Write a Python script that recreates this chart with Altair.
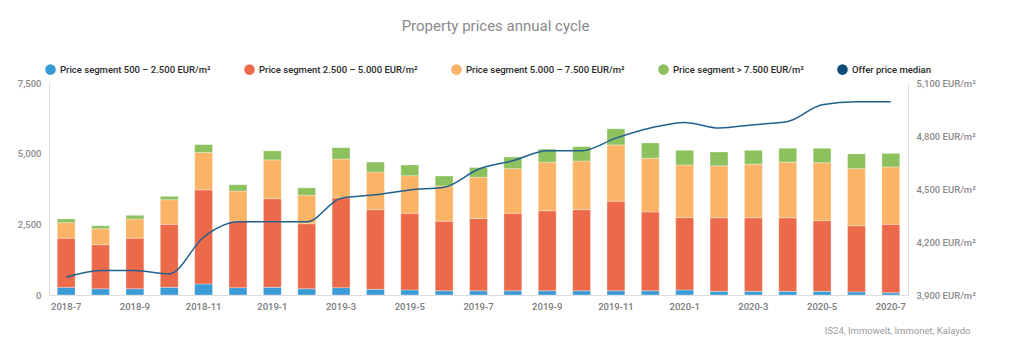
import altair as alt
import pandas as pd

months = ["2018-7", "2018-8", "2018-9", "2018-10", "2018-11", "2018-12",
          "2019-1", "2019-2", "2019-3", "2019-4", "2019-5", "2019-6",
          "2019-7", "2019-8", "2019-9", "2019-10", "2019-11", "2019-12",
          "2020-1", "2020-2", "2020-3", "2020-4", "2020-5", "2020-6", "2020-7"]

seg_500_2500 = [270, 220, 220, 270, 390, 260, 270, 220, 260, 200, 180, 150, 150,
                150, 150, 150, 150, 150, 180, 130, 130, 130, 130, 110, 80]
seg_2500_5000 = [1740, 1560, 1790, 2230, 3330, 2350, 3140, 2300, 3180, 2820, 2710, 2460, 2560,
                 2740, 2830, 2870, 3170, 2790, 2560, 2600, 2600, 2600, 2500, 2340, 2420]
seg_5000_7500 = [550, 565, 680, 870, 1320, 1070, 1370, 1010, 1370, 1330, 1330, 1250, 1460,
                 1580, 1720, 1720, 1990, 1900, 1860, 1840, 1900, 1970, 2050, 2020, 2030]
seg_7500_plus = [130, 105, 130, 120, 280, 220, 320, 260, 400, 350, 380, 350, 340,
                 415, 460, 510, 570, 540, 520, 490, 490, 490, 510, 520, 480]
median_price = [4000, 4038, 4038, 4019, 4227, 4314, 4314, 4314, 4448, 4467, 4495, 4510, 4612,
                4660, 4716, 4716, 4788, 4845, 4877, 4845, 4864, 4882, 4977, 4994, 4994]

segment_names = ["Price segment 500 – 2.500 EUR/m²",
                 "Price segment 2.500 – 5.000 EUR/m²",
                 "Price segment 5.000 – 7.500 EUR/m²",
                 "Price segment > 7.500 EUR/m²",
                 "Offer price median"]
colors = ["#3a9bd6", "#ec6a4a", "#fbb465", "#8cc15e", "#0c4c78"]
right_ticks = [3900, 4200, 4500, 4800, 5100]
left_ticks = [0, 2500, 5000, 7500]
source_text = "IS24, Immowelt, Immonet, Kalaydo"
title_text = "Property prices annual cycle"

series = [seg_500_2500, seg_2500_5000, seg_5000_7500, seg_7500_plus]
rows = []
for si, vals in enumerate(series):
    for m, v in zip(months, vals):
        rows.append({"month": m, "segment": segment_names[si], "value": v, "idx": si})
bars_df = pd.DataFrame(rows)
line_df = pd.DataFrame({"month": months, "median": median_price})

FONT = "Roboto"

x_enc = alt.X(
    "month:N", sort=months,
    scale=alt.Scale(paddingInner=0.48, paddingOuter=0.24),
    axis=alt.Axis(
        values=months[::2], labelAngle=0, ticks=False, domain=True,
        domainColor="#dddddd", labelColor="#7a7a7a", labelFontSize=9.5,
        labelFontWeight=500, labelFont=FONT, labelPadding=6,
        title=source_text, titleFont=FONT, titleFontSize=9.5,
        titleFontWeight="normal", titleColor="#9a9a9a",
        titleX=921, titleY=35, titleAlign="right", titleBaseline="middle",
        titleAnchor="end",
    ),
)

bars = alt.Chart(bars_df).mark_bar(stroke="#ffffff", strokeWidth=0.5, strokeOpacity=0.6).encode(
    x=x_enc,
    y=alt.Y("value:Q", stack="zero",
            scale=alt.Scale(domain=[0, 7500], nice=False),
            axis=alt.Axis(values=left_ticks, grid=False, ticks=False,
                          domainColor="#dddddd", labelColor="#8a8a8a",
                          labelFontSize=9.5, labelFontWeight=500, labelFont=FONT,
                          labelPadding=8, title=None,
                          labelExpr="format(datum.value, ',')")),
    color=alt.Color("segment:N",
                    scale=alt.Scale(domain=segment_names, range=colors),
                    legend=alt.Legend(orient="none", legendX=-4, legendY=-19,
                                      direction="horizontal", columns=5, title=None,
                                      symbolType="circle", symbolSize=112,
                                      symbolStrokeWidth=0, labelFontSize=9.5,
                                      labelFont=FONT, labelFontWeight=500,
                                      labelColor="#2a2a2a", columnPadding=33,
                                      labelOffset=4, padding=0)),
    order=alt.Order("idx:Q", sort="ascending"),
)

line = alt.Chart(line_df).mark_line(color="#21608e", strokeWidth=1.5,
                                    interpolate="monotone").encode(
    x=x_enc,
    y=alt.Y("median:Q",
            scale=alt.Scale(domain=[3900, 5100], nice=False),
            axis=alt.Axis(orient="right", values=right_ticks, grid=False, ticks=False,
                          domainColor="#dddddd", labelColor="#8a8a8a",
                          labelFontSize=9.5, labelFontWeight=500, labelFont=FONT,
                          labelPadding=8, title=None,
                          labelExpr="format(datum.value, ',') + ' EUR/m²'")),
)

chart = alt.layer(bars, line).resolve_scale(y="independent").properties(
    width=859, height=212,
    autosize=alt.AutoSizeParams(type="none"),
    padding={"left": 49, "top": 83, "right": 116, "bottom": 61},
    title=alt.Title(title_text, font=FONT, fontSize=15, fontWeight="normal",
                    color="#8a8a8a", anchor="middle", frame="group", dx=17,
                    offset=15, baseline="bottom"),
).configure_view(stroke=None)

chart.save("out.html", embed_options={"renderer": "svg", "actions": False})
